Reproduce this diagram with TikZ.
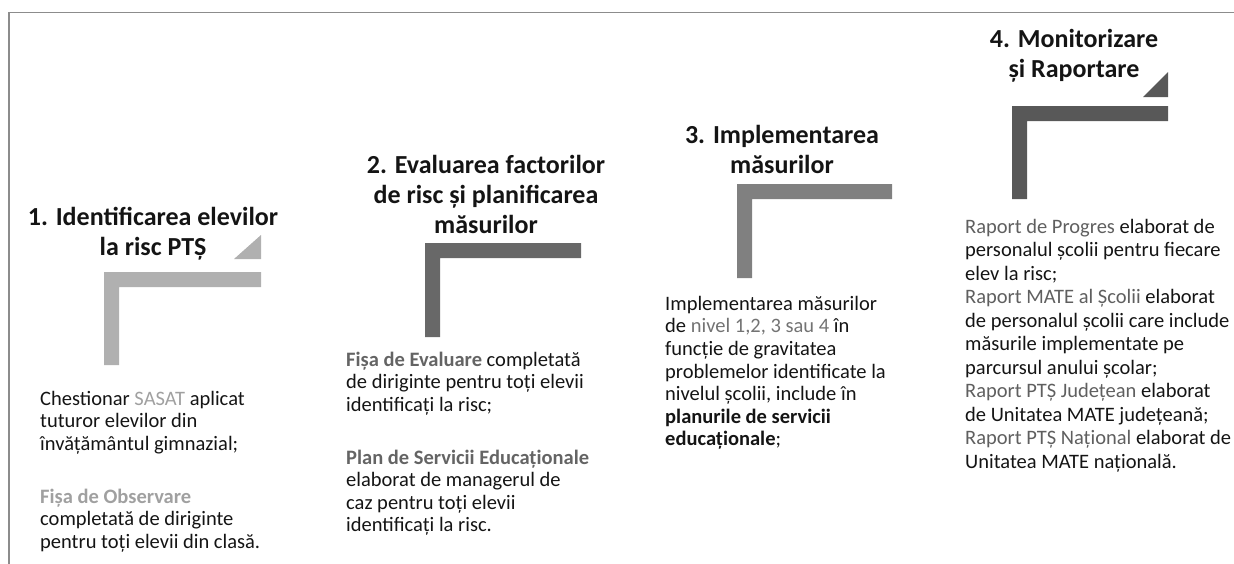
\documentclass[tikz,border=0pt]{standalone}
\usepackage{fontspec}
\setmainfont{Carlito}
\definecolor{frame}{RGB}{140,140,140}
\definecolor{cone}{RGB}{176,176,176}
\definecolor{ctwo}{RGB}{104,104,104}
\definecolor{cthree}{RGB}{128,128,128}
\definecolor{cfour}{RGB}{88,88,88}
\definecolor{tone}{RGB}{160,160,160}
\definecolor{ttwo}{RGB}{100,100,100}
\definecolor{tthree}{RGB}{115,115,115}
\definecolor{tfour}{RGB}{95,95,95}
\definecolor{ink}{RGB}{20,20,20}
\tikzset{
  titlebox/.style={anchor=north, inner sep=0pt, align=center, text=ink,
    font=\fontsize{26}{30}\selectfont\bfseries},
  bodybox/.style={anchor=north west, inner sep=0pt, align=left, text=ink,
    font=\fontsize{20.5}{22.6}\selectfont},
  bodyboxwide/.style={bodybox, font=\fontsize{20.5}{23.5}\selectfont}
}
\newcommand{\ts}{\rule{0pt}{21pt}}
\newcommand{\bs}{\rule{0pt}{17pt}}
\newcommand{\hl}[2]{{\color{#1}\bfseries #2}}
\newcommand{\hn}[2]{{\color{#1}#2}}
\begin{document}
\begin{tikzpicture}[x=1pt,y=-1pt]
\useasboundingbox (0,0) rectangle (1234,563);
% frame
\draw[frame, line width=1.6pt] (9,570) -- (9,12.5) -- (1240,12.5);
% step shapes
\fill[cone] (104,365) -- (104,272) -- (261,272) -- (261,287) -- (119,287) -- (119,365) -- cycle;
\fill[cone] (234,259) -- (261,259) -- (261,235) -- cycle;
\fill[ctwo] (425,337) -- (425,243) -- (581,243) -- (581,258) -- (440,258) -- (440,337) -- cycle;
\fill[cthree] (737,278) -- (737,184) -- (892,184) -- (892,199) -- (752,199) -- (752,278) -- cycle;
\fill[cfour] (1012,199) -- (1012,106) -- (1168,106) -- (1168,121) -- (1027,121) -- (1027,199) -- cycle;
\fill[cfour] (1143,97) -- (1168,97) -- (1168,72) -- cycle;
% titles
\node[titlebox] (t1) at (153,204) {\ts 1. Identificarea elevilor\\la risc PTȘ};
\node[titlebox] (t2) at (486,152) {\ts 2. Evaluarea factorilor\\de risc și planificarea\\măsurilor};
\node[titlebox] (t3) at (782,122) {\ts 3. Implementarea\\măsurilor};
\node[titlebox] (t4) at (1074,26) {\ts 4. Monitorizare\\și Raportare};
% bodies
\node[bodybox] (b1) at (40,388) {\bs Chestionar {\color{tone}SASAT} aplicat\\
tuturor elevilor din\\
învățământul gimnazial;\\[30pt]
\hl{tone}{Fișa de Observare}\\
completată de diriginte\\
pentru toți elevii din clasă.};
\node[bodybox] (b2) at (346,349) {\bs\hl{ttwo}{Fișa de Evaluare} completată\\
de diriginte pentru toți elevii\\
identificați la risc;\\[30pt]
\hl{ttwo}{Plan de Servicii Educaționale}\\
elaborat de managerul de\\
caz pentru toți elevii\\
identificați la risc.};
\node[bodybox] (b3) at (665,293) {\bs Implementarea măsurilor\\
de \hn{tthree}{nivel 1,2, 3 sau 4} în\\
funcție de gravitatea\\
problemelor identificate la\\
nivelul școlii, include în\\
\textbf{planurile de servicii}\\
\textbf{educaționale};};
\node[bodyboxwide] (b4) at (965,216) {\bs\hn{tfour}{Raport de Progres} elaborat de\\
personalul școlii pentru fiecare\\
elev la risc;\\
\hn{tfour}{Raport MATE al Școlii} elaborat\\
de personalul școlii care include\\
măsurile implementate pe\\
parcursul anului școlar;\\
\hn{tfour}{Raport PTȘ Județean} elaborat\\
de Unitatea MATE județeană;\\
\hn{tfour}{Raport PTȘ Național} elaborat de\\
Unitatea MATE națională.};
\end{tikzpicture}
\end{document}
